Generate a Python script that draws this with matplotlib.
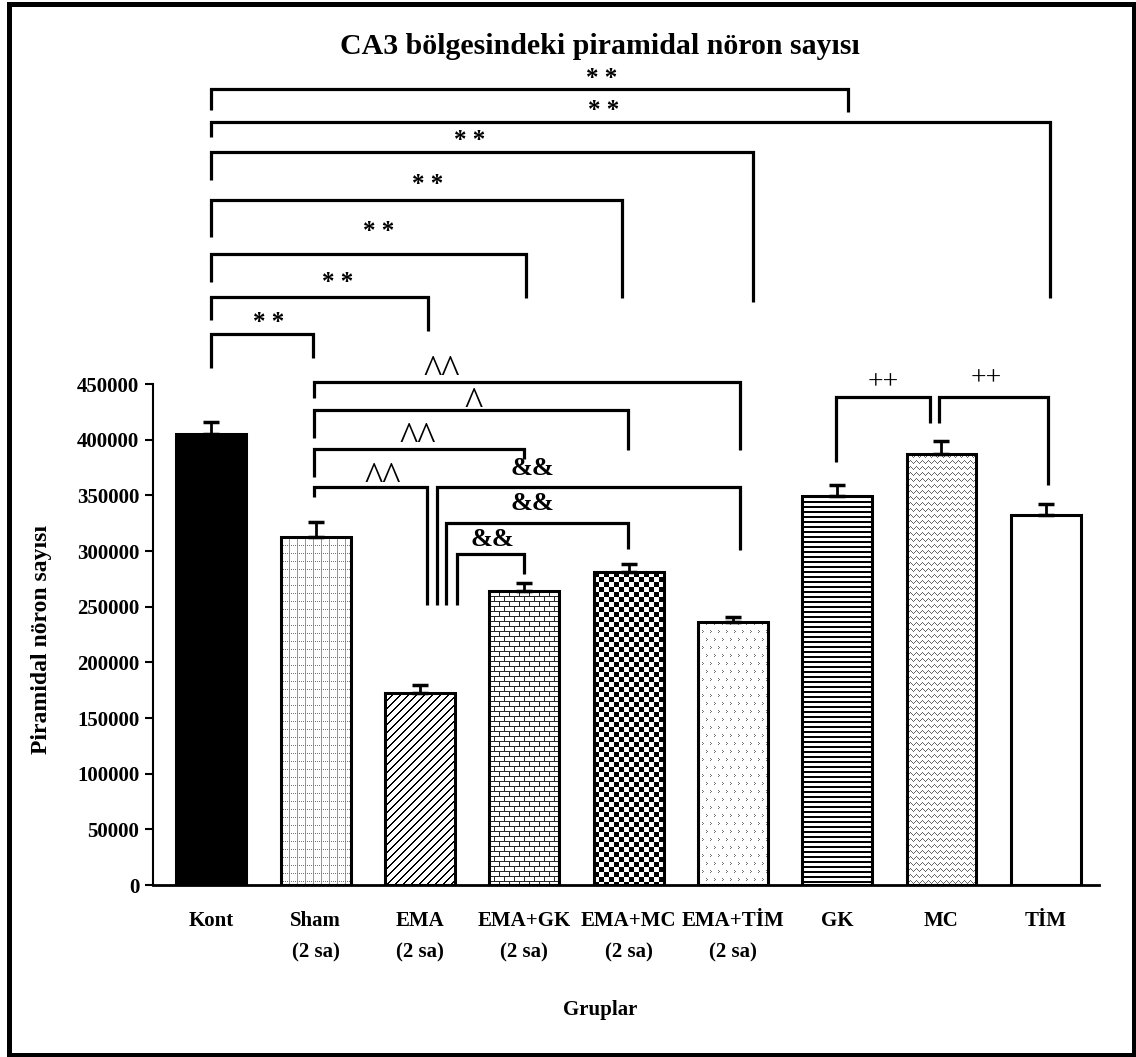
import numpy as np
import matplotlib.pyplot as plt
from matplotlib.patches import Rectangle

plt.rcParams['font.family'] = ['Liberation Serif', 'DejaVu Serif']
plt.rcParams['font.weight'] = 'bold'

groups = ['Kont', 'Sham\n(2 sa)', 'EMA\n(2 sa)', 'EMA+GK\n(2 sa)', 'EMA+MC\n(2 sa)',
          'EMA+TİM\n(2 sa)', 'GK', 'MC', 'TİM']
means = [405000, 313000, 172700, 264300, 281400, 236500, 349400, 386800, 332300]
sem = [11000, 13000, 6600, 6700, 6600, 4000, 10000, 12200, 9900]
yticks = list(range(0, 450001, 50000))
fills = ['solid', 'grid', 'diag', 'brick', 'check', 'dots', 'hlines', 'zigzag', 'plain']

# comparison brackets: left x, right x, bar height, left leg end, right leg end,
# label, label x, label y
brackets = [
    (0.00, 6.10, 714700, 696100, 694600, '* *', 3.74, 724500),
    (0.00, 8.04, 685600, 671800, 526900, '* *', 3.76, 696000),
    (0.00, 5.19, 658100, 633200, 523900, '* *', 2.48, 668500),
    (0.00, 3.94, 615300, 582000, 526900, '* *', 2.07, 629500),
    (0.00, 3.02, 566800, 541600, 527200, '* *', 1.60, 587000),
    (0.00, 2.08, 527900, 507500, 497600, '* *', 1.21, 541500),
    (0.00, 0.97, 494900, 464400, 473400, '* *', 0.55, 505500),
    (0.98, 5.07, 451400, 437400, 390700, '^^', 2.21, 459000),
    (0.98, 3.99, 426600, 401500, 390700, '^', 2.51, 431000),
    (0.98, 3.00, 391300, 366700, 382600, '^^', 1.98, 399000),
    (0.98, 2.07, 357200, 348500, 251500, '^^', 1.64, 363000),
    (2.16, 5.07, 357500, 251500, 300900, '&&', 3.08, 374500),
    (2.25, 3.99, 325100, 251500, 301800, '&&', 3.08, 343100),
    (2.35, 3.00, 297000, 251500, 279300, '&&', 2.69, 309900),
    (5.99, 6.89, 438000, 380200, 414700, '++', 6.44, 451000),
    (6.98, 8.02, 438000, 414700, 359300, '++', 7.43, 454400),
]
label_size = {'*': 18, '^': 28, '&': 19, '+': 20}


def texture(kind, h, w):
    r, c = np.mgrid[0:h, 0:w]
    img = np.ones((h, w))
    if kind == 'grid':
        img[c % 8 == 0] = 0.6
        img[(r % 8 == 0) & (c % 2 == 0)] = 0.45
    elif kind == 'diag':
        img[(r + c) % 8 < 2] = 0
    elif kind == 'brick':
        row = r // 5
        img[r % 5 == 0] = 0.15
        img[(r % 5 != 0) & ((c + (row % 2) * 5) % 10 == 0)] = 0.15
    elif kind == 'check':
        img[((r // 5) + (c // 5)) % 2 == 0] = 0
    elif kind == 'dots':
        shift = (r // 8 % 2) * 4
        img[(r % 8 == 0) & ((c + shift) % 8 == 0)] = 0.45
        img[(r % 8 == 1) & ((c + shift) % 8 == 1)] = 0.45
        img[(r % 8 == 2) & ((c + shift) % 8 == 0)] = 0.45
    elif kind == 'hlines':
        img[r % 5 < 2] = 0
    elif kind == 'zigzag':
        tri = np.abs((c % 6) - 3)
        img[(r - tri) % 6 == 0] = 0.4
    return img


fig = plt.figure(figsize=(11.36, 10.57), dpi=100)
ax = fig.add_axes([0.1347, 0.1627, 0.8327, 0.474])
ax.set_xlim(-0.56, 8.51)
ax.set_ylim(0, 450000)

x = np.arange(len(groups))
faces = ['black' if f == 'solid' else 'none' for f in fills]
bars = ax.bar(x, means, width=0.67, color=faces, edgecolor='black', linewidth=2.2, zorder=3)

for b, kind in zip(bars, fills):
    if kind in ('solid', 'plain'):
        continue
    x0, y0 = b.get_x(), b.get_y()
    x1, y1 = x0 + b.get_width(), y0 + b.get_height()
    (px0, py0), (px1, py1) = ax.transData.transform([(x0, y0), (x1, y1)])
    w, h = int(round(px1 - px0)), int(round(py1 - py0))
    # stretch the extent so one texture pixel lands on one screen pixel
    ytop = y0 + (y1 - y0) * h / (py1 - py0)
    xright = x0 + (x1 - x0) * w / (px1 - px0)
    im = ax.imshow(texture(kind, h, w), cmap='gray', vmin=0, vmax=1,
                   extent=(x0, xright, y0, ytop), aspect='auto',
                   interpolation='nearest', zorder=2)
    im.set_clip_path(b)

ax.errorbar(x, means, yerr=[np.zeros(len(sem)), sem], fmt='none', ecolor='black',
            elinewidth=2, capsize=6, capthick=2.5, zorder=4)

ax.set_xlim(-0.56, 8.51)
ax.set_ylim(0, 450000)
ax.set_yticks(yticks)
ax.set_xticks(x)
ax.set_xticklabels(groups, fontsize=15, linespacing=1.72, va='top')
ax.tick_params(axis='y', direction='out', length=6, width=1.5, labelsize=15, pad=4)
ax.tick_params(axis='x', length=0, pad=19)
for s in ('top', 'right'):
    ax.spines[s].set_visible(False)
ax.spines['left'].set_linewidth(1.5)
ax.spines['bottom'].set_linewidth(2)

for xa, xb, y, ya, yb, lab, lx, ly in brackets:
    ax.plot([xa, xa, xb, xb], [ya, y, y, yb], color='black', lw=2.3, clip_on=False,
            solid_joinstyle='miter', solid_capstyle='butt', zorder=5)
    wt = 'normal' if lab[0] in '^+' else 'bold'
    ax.text(lx, ly, lab, ha='center', va='center', fontsize=label_size[lab[0]],
            fontweight=wt, clip_on=False)

fig.text(0.528, 1 - 47 / 1057, 'CA3 bölgesindeki piramidal nöron sayısı',
         ha='center', va='center', fontsize=21.5)
fig.text(42 / 1136, 1 - 640 / 1057, 'Piramidal nöron sayısı', rotation=90,
         ha='center', va='center', fontsize=17)
fig.text(600 / 1136, 1 - 1010 / 1057, 'Gruplar', ha='center', va='center', fontsize=15)

fig.add_artist(Rectangle((8.5 / 1136, 2.5 / 1057), 1125 / 1136, 1051 / 1057,
                         transform=fig.transFigure, fill=False, lw=3.6,
                         edgecolor='black'))

plt.savefig('out.png', dpi=100)
